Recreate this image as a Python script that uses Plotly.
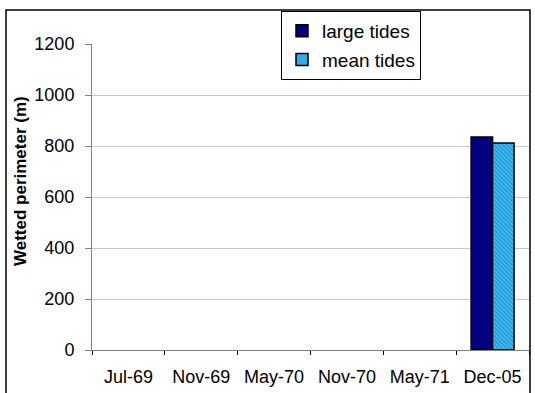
import plotly.graph_objects as go

categories = ["Jul-69", "Nov-69", "May-70", "Nov-70", "May-71", "Dec-05"]
large_tides = [None, None, None, None, None, 835]
mean_tides = [None, None, None, None, None, 812]
y_ticks = [0, 200, 400, 600, 800, 1000, 1200]

FONT = "Liberation Sans, Arial, sans-serif"

fig = go.Figure()
fig.add_trace(go.Bar(
    x=categories, y=large_tides, name="large tides", legendgroup="a",
    marker=dict(color="#000080", line=dict(color="black", width=1.5)),
))
fig.add_trace(go.Bar(
    x=categories, y=mean_tides, name="mean tides", legendgroup="b",
    marker=dict(
        color="#38c4f4",
        line=dict(color="black", width=1.5),
        pattern=dict(shape="\\", size=3, solidity=0.5, fgcolor="#2262c4"),
    ),
))

# outer chart frame (Excel-style border)
fig.add_shape(type="rect", xref="paper", yref="paper",
              x0=(6 - 92) / 437, x1=(530 - 92) / 437,
              y0=-0.3, y1=(350 - 10) / 306,
              line=dict(color="black", width=1.5), layer="below")

# axis title placed like the original (a bit above the axis centre)
fig.add_annotation(text="<b>Wetted perimeter (m)</b>", textangle=-90,
                   xref="paper", yref="paper",
                   x=(20 - 92) / 437, y=(350 - 181) / 306,
                   xanchor="center", yanchor="middle",
                   showarrow=False, font=dict(size=17))

fig.update_layout(
    width=535, height=393,
    margin=dict(l=92, r=6, t=44, b=43),
    plot_bgcolor="white", paper_bgcolor="white",
    font=dict(family=FONT, size=18, color="black"),
    barmode="group", bargap=0.41, bargroupgap=0,
    showlegend=True,
    legend=dict(
        x=(281 - 92) / 437, y=(350 - 11) / 306, xanchor="left", yanchor="top",
        bgcolor="white", bordercolor="black", borderwidth=1,
        font=dict(size=19), tracegroupgap=1,
    ),
    xaxis=dict(
        type="category", showgrid=False, showline=True, linecolor="#808080",
        ticks="outside", ticklen=4, tickcolor="black", tickson="boundaries",
        ticklabelstandoff=10,
    ),
    yaxis=dict(
        range=[0, 1200], tickvals=y_ticks, showgrid=True, gridcolor="#c8c8c8",
        showline=True, linecolor="#808080", ticks="outside", ticklen=6,
        tickcolor="#808080", zeroline=False, ticklabelstandoff=7,
    ),
)

fig.write_html("out.html", config={"displayModeBar": False},
               post_script="document.body.style.margin='0';")
